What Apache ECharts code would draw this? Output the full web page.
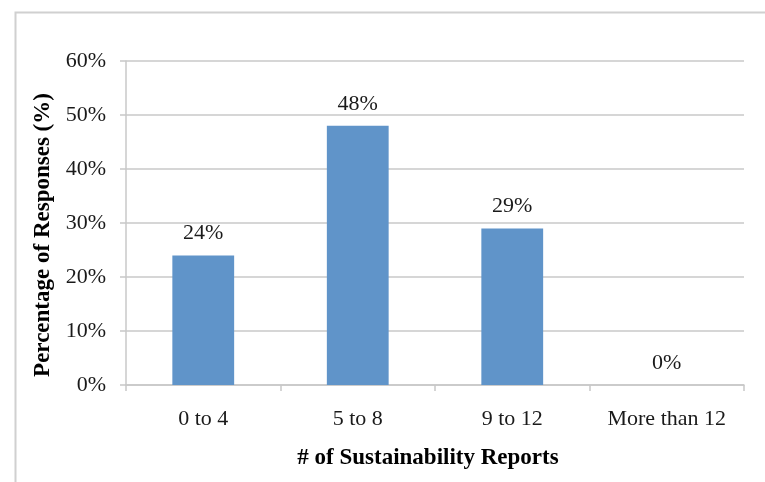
<!DOCTYPE html>
<html><head><meta charset="utf-8">
<script src="https://cdn.jsdelivr.net/npm/echarts@6/dist/echarts.min.js"></script>
<style>html,body{margin:0;padding:0;background:#fff}#c{width:765px;height:482px}</style>
</head><body><div id="c"></div>
<script>
var categories = ['0 to 4', '5 to 8', '9 to 12', 'More than 12'];
var percentages = [24, 48, 29, 0];
var yTicks = [0, 10, 20, 30, 40, 50, 60];
var xTitle = '# of Sustainability Reports';
var yTitle = 'Percentage of Responses (%)';

var chart = echarts.init(document.getElementById('c'));
var font = '"Liberation Serif", "Times New Roman", serif';
chart.setOption({
  animation: false,
  graphic: [{
    type: 'rect', left: 13, top: 10, shape: {width: 800, height: 500},
    style: {fill: 'none', stroke: '#d0d0d0', lineWidth: 2}, z: -1
  }],
  grid: {left: 126, right: 21, top: 61, bottom: 97},
  xAxis: {
    type: 'category', data: categories,
    name: xTitle, nameLocation: 'middle', nameGap: 62,
    nameTextStyle: {fontFamily: font, fontSize: 23, fontWeight: 'bold', color: '#000', padding: [0, 14, 0, 0]},
    axisLine: {lineStyle: {color: '#c8c8c8', width: 1.5}},
    axisTick: {show: true, length: 6, lineStyle: {color: '#c8c8c8', width: 1.5}},
    axisLabel: {fontFamily: font, fontSize: 22, color: '#1a1a1a', margin: 23}
  },
  yAxis: {
    type: 'value', min: 0, max: 60, interval: 10,
    name: yTitle, nameLocation: 'middle', nameGap: 71,
    nameTextStyle: {fontFamily: font, fontSize: 23, fontWeight: 'bold', color: '#000', padding: [0, 24, 0, 0]},
    axisLine: {show: true, lineStyle: {color: '#c8c8c8', width: 1.5}},
    axisTick: {show: true, length: 6, lineStyle: {color: '#c8c8c8', width: 1.5}},
    splitLine: {lineStyle: {color: '#c8c8c8', width: 1.5}},
    axisLabel: {fontFamily: font, fontSize: 22, color: '#1a1a1a', margin: 20, padding: [8, 0, 0, 0],
      formatter: function (v) { return yTicks.indexOf(v) >= 0 ? v + '%' : ''; }}
  },
  series: [{
    type: 'bar', data: percentages, barWidth: '40%',
    itemStyle: {color: '#6094c9'},
    label: {show: true, position: 'top', distance: 11, fontFamily: font, fontSize: 22,
      color: '#1a1a1a', formatter: '{c}%'}
  }]
});
</script></body></html>
